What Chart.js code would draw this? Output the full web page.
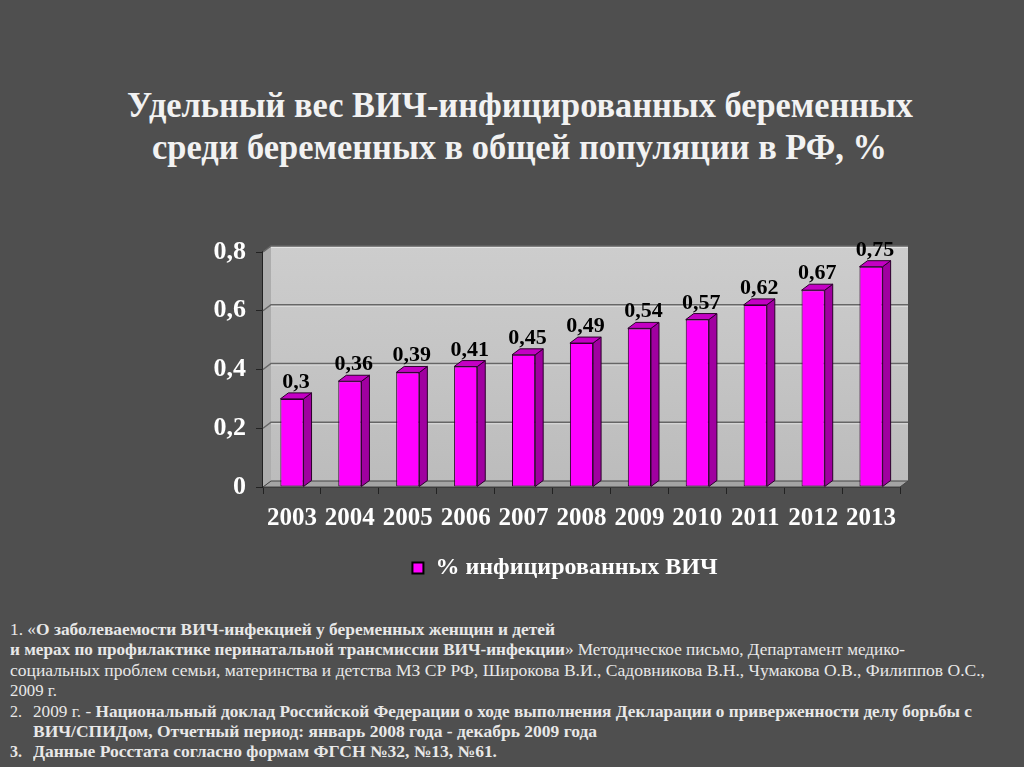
<!DOCTYPE html>
<html>
<head>
<meta charset="utf-8">
<script src="https://cdn.jsdelivr.net/npm/chart.js@4.4.0/dist/chart.umd.min.js"></script>
<style>
  html, body { margin: 0; padding: 0; }
  body { width: 1024px; height: 767px; background: #4f4f4f; position: relative; overflow: hidden;
         font-family: "Liberation Serif", "DejaVu Serif", serif; }
  .fit { position: absolute; white-space: nowrap; transform-origin: 0 50%; }
  .title { font-weight: bold; font-size: 36px; color: #f2f2f2; line-height: 40px; }
  .note { font-size: 16px; color: #e8e8e8; line-height: 20px; }
  .note b { font-weight: bold; }
  #wrap { position: absolute; left: 0; top: 220px; width: 1024px; height: 380px; }
</style>
</head>
<body>
<div class="fit title" data-w="786" style="left:127px; top:85px;">Удельный вес ВИЧ-инфицированных беременных</div>
<div class="fit title" data-w="735" style="left:152px; top:127px;">среди беременных в общей популяции в РФ, %</div>

<div id="wrap"><canvas id="chart"></canvas></div>

<div class="fit note" data-w="545" style="left:10px; top:620px;">1. «<b>О заболеваемости ВИЧ-инфекцией у беременных женщин и детей</b></div>
<div class="fit note" data-w="895" style="left:10px; top:640px;"><b>и мерах по профилактике перинатальной трансмиссии ВИЧ-инфекции</b>» Методическое письмо, Департамент медико-</div>
<div class="fit note" data-w="975" style="left:10px; top:661px;">социальных проблем семьи, материнства и детства МЗ СР РФ, Широкова В.И., Садовникова В.Н., Чумакова О.В., Филиппов О.С.,</div>
<div class="fit note" data-w="47" style="left:10px; top:681px;">2009 г.</div>
<div class="fit note" style="left:10px; top:702px;">2.</div>
<div class="fit note" data-w="939" style="left:33px; top:702px;">2009 г. - <b>Национальный доклад Российской Федерации о ходе выполнения Декларации о приверженности делу борьбы с</b></div>
<div class="fit note" data-w="564" style="left:33px; top:722px;"><b>ВИЧ/СПИДом, Отчетный период: январь 2008 года - декабрь 2009 года</b></div>
<div class="fit note" style="left:10px; top:742px;"><b>3.</b></div>
<div class="fit note" data-w="464" style="left:33px; top:742px;"><b>Данные Росстата согласно формам ФГСН №32, №13, №61.</b></div>

<script>
// data
const years = ['2003', '2004', '2005', '2006', '2007', '2008', '2009', '2010', '2011', '2012', '2013'];
const shares = [0.3, 0.36, 0.39, 0.41, 0.45, 0.49, 0.54, 0.57, 0.62, 0.67, 0.75];
const yTicks = [0, 0.2, 0.4, 0.6, 0.8];
const seriesName = '% инфицированных ВИЧ';

// squeeze text lines to the widths seen in the picture
document.querySelectorAll('.fit[data-w]').forEach(el => {
  const w = el.getBoundingClientRect().width;
  el.style.transform = 'scaleX(' + (+el.dataset.w / w) + ')';
});

const fmt = v => String(v).replace('.', ',');
const DX = 8, DY = 6;
const serif = '"Liberation Serif", "DejaVu Serif", serif';

function poly(ctx, pts, fill, stroke) {
  ctx.beginPath();
  ctx.moveTo(pts[0][0], pts[0][1]);
  for (let i = 1; i < pts.length; i++) ctx.lineTo(pts[i][0], pts[i][1]);
  ctx.closePath();
  if (fill) { ctx.fillStyle = fill; ctx.fill(); }
  if (stroke) { ctx.strokeStyle = stroke; ctx.lineWidth = 1; ctx.stroke(); }
}

// fake 3d: back wall, floor, side faces of bars, value labels
const depth = {
  id: 'depth',
  beforeDatasetsDraw(chart) {
    const { ctx, chartArea: a, scales: { y } } = chart;
    ctx.save();
    const g = ctx.createLinearGradient(0, a.top - DY, 0, a.bottom - DY);
    g.addColorStop(0, '#cdcdcd');
    g.addColorStop(1, '#bcbcbc');
    poly(ctx, [[a.left + DX, a.top - DY], [a.right + DX, a.top - DY], [a.right + DX, a.bottom - DY], [a.left + DX, a.bottom - DY]], g);
    poly(ctx, [[a.left, a.top], [a.left + DX, a.top - DY], [a.left + DX, a.bottom - DY], [a.left, a.bottom]], '#adadad');
    poly(ctx, [[a.left, a.bottom], [a.left + DX, a.bottom - DY], [a.right + DX, a.bottom - DY], [a.right, a.bottom]], '#a4a4a4', '#444');
    yTicks.forEach(v => {
      if (v === 0) return;
      const py = y.getPixelForValue(v);
      ctx.strokeStyle = '#666';
      ctx.lineWidth = 1.5;
      ctx.beginPath();
      ctx.moveTo(a.left, py);
      ctx.lineTo(a.left + DX, py - DY);
      ctx.lineTo(a.right + DX, py - DY);
      ctx.stroke();
      ctx.strokeStyle = 'rgba(255,255,255,0.45)';
      ctx.lineWidth = 1;
      ctx.beginPath();
      ctx.moveTo(a.left + DX, py - DY + 1.5);
      ctx.lineTo(a.right + DX, py - DY + 1.5);
      ctx.stroke();
    });
    ctx.restore();
  },
  afterDatasetsDraw(chart) {
    const { ctx } = chart;
    ctx.save();
    chart.getDatasetMeta(0).data.forEach((bar, i) => {
      const { x, y, width, base } = bar.getProps(['x', 'y', 'width', 'base'], true);
      const l = x - width / 2, r = x + width / 2;
      poly(ctx, [[r, y], [r + DX, y - DY], [r + DX, base - DY], [r, base]], '#a000a0', '#2a002a');
      poly(ctx, [[l, y], [l + DX, y - DY], [r + DX, y - DY], [r, y]], '#c400c4', '#2a002a');
      ctx.fillStyle = '#000';
      ctx.font = 'bold 22px ' + serif;
      ctx.textAlign = 'center';
      ctx.textBaseline = 'alphabetic';
      ctx.fillText(fmt(shares[i]), x + DX / 2, y - DY - 5);
    });
    ctx.restore();
  }
};

new Chart(document.getElementById('chart'), {
  type: 'bar',
  data: {
    labels: years,
    datasets: [{
      label: seriesName,
      data: shares,
      backgroundColor: '#ff00ff',
      borderColor: '#2a002a',
      borderWidth: 1,
      borderSkipped: false,
      barPercentage: 0.4,
      categoryPercentage: 1
    }]
  },
  options: {
    responsive: true,
    maintainAspectRatio: false,
    animation: false,
    layout: { padding: { left: 203, right: 97, top: 32, bottom: 10 } },
    plugins: {
      tooltip: { enabled: false },
      legend: {
        position: 'bottom',
        labels: {
          color: '#fff',
          font: { family: serif, size: 24, weight: 'bold' },
          boxWidth: 11,
          boxHeight: 11,
          padding: 9,
          generateLabels(c) {
            const items = Chart.defaults.plugins.legend.labels.generateLabels(c);
            items.forEach(it => { it.lineWidth = 2; it.strokeStyle = '#000'; it.fontColor = '#fff'; });
            return items;
          }
        }
      }
    },
    scales: {
      x: {
        afterFit(s) { s.height = 60; },
        grid: { drawOnChartArea: false, tickLength: 7, color: '#222', offset: true },
        border: { color: '#222', width: 1.5 },
        ticks: { color: '#fff', padding: 10, font: { family: serif, size: 25, weight: 'bold' } }
      },
      y: {
        min: 0,
        max: 0.8,
        afterFit(s) { s.width = 60; },
        afterBuildTicks(s) { s.ticks = yTicks.map(v => ({ value: v })); },
        grid: { drawOnChartArea: false, tickLength: 7, color: '#222' },
        border: { color: '#222', width: 1.5 },
        ticks: { color: '#fff', padding: 10, font: { family: serif, size: 26, weight: 'bold' }, callback: v => fmt(v) }
      },
      // empty right-hand strip, only there to keep the plot where it sits in the picture
      spacer: {
        position: 'right',
        min: 0,
        max: 1,
        afterFit(s) { s.width = 27; },
        grid: { display: false },
        border: { display: false },
        ticks: { display: false }
      }
    }
  },
  plugins: [depth]
});
</script>
</body>
</html>
